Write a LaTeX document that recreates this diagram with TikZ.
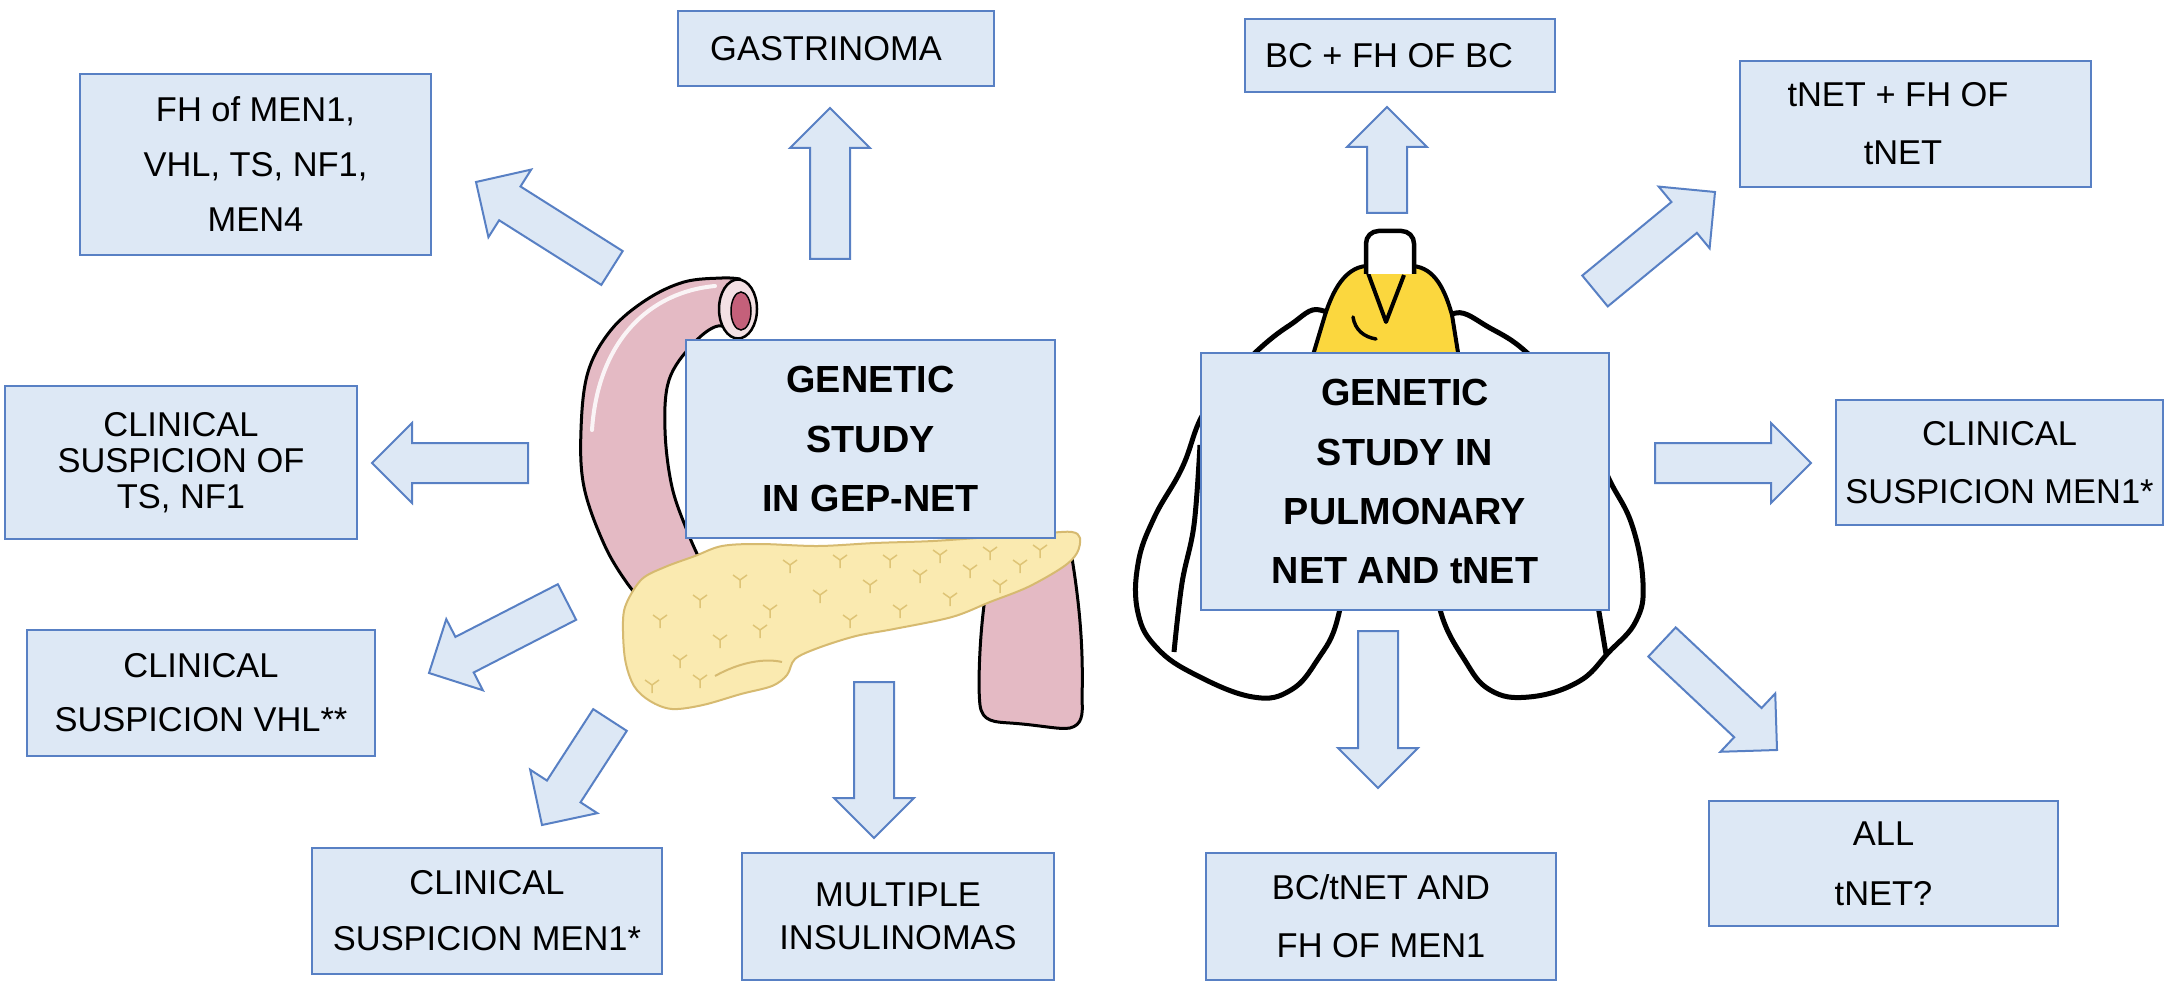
\documentclass[tikz,border=0pt]{standalone}
\usepackage{fontspec}
\setmainfont{Liberation Sans}
\usepackage{tikz}
\usetikzlibrary{calc}
\definecolor{boxfill}{RGB}{221,232,245}
\definecolor{boxline}{RGB}{88,128,196}
\definecolor{duopink}{RGB}{228,186,196}
\definecolor{lumenred}{RGB}{196,96,122}
\definecolor{pancyellow}{RGB}{250,234,176}
\definecolor{pancedge}{RGB}{214,186,112}
\definecolor{panctick}{RGB}{222,196,118}
\definecolor{thymyellow}{RGB}{251,215,62}

% block arrow from tail coordinate #1 to tip coordinate #2
\newcommand{\fatarrow}[2]{%
  \coordinate (hb) at ($(#2)!8mm!(#1)$);
  \draw[blockarrow] ($(#1)!4mm!90:(#2)$) -- ($(hb)!4mm!90:(#2)$) -- ($(hb)!8mm!90:(#2)$) -- (#2)
    -- ($(hb)!8mm!-90:(#2)$) -- ($(hb)!4mm!-90:(#2)$) -- ($(#1)!4mm!-90:(#2)$) -- cycle;
}

\begin{document}
\begin{tikzpicture}[
    x=0.2mm, y=-0.2mm,
    box/.style={draw=boxline, fill=boxfill, line width=0.5mm, inner sep=0pt, align=center, font=\fontsize{19.6}{33}\selectfont},
    hub/.style={box, font=\fontsize{21.5}{33.6}\selectfont\bfseries},
    blockarrow/.style={draw=boxline, fill=boxfill, line width=0.4mm, line join=miter},
    organ/.style={draw=black, line width=1mm, line join=round},
    gut/.style={draw=black, line width=0.6mm, fill=duopink, line join=round}
]
    \fill[white] (0,0) rectangle (2175,999);
    \useasboundingbox (0,0) rectangle (2175,999);

    % Duodenum
    \draw[gut] (1050,560) -- (985,598) .. controls (979,640) and (978,690) .. (980,705)
        .. controls (982,722) and (995,722) .. (1010,723) .. controls (1040,725) and (1060,730) .. (1070,728)
        .. controls (1082,725) and (1083,715) .. (1082,700) .. controls (1083,660) and (1082,620) .. (1072,558) -- cycle;
    \draw[gut] plot[smooth, tension=0.6] coordinates {(740,279) (722,278) (684,282) (646,300) (611,330) (588,372)
        (581,430) (584,487) (604,544) (627,583) (650,610)} -- (720,600)
        -- plot[smooth, tension=0.6] coordinates {(700,560) (688,533) (672,487) (665,430) (669,380) (692,345) (718,326) (740,336)} -- cycle;
    \draw[white, line width=0.8mm, opacity=0.85, line cap=round] (715,286) .. controls (650,292) and (598,340) .. (592,430);
    \draw[line width=0.5mm, fill=duopink!45] (738,309) ellipse [x radius=3.8mm, y radius=5.9mm];
    \draw[line width=0.3mm, fill=lumenred] (741,311) ellipse [x radius=2mm, y radius=3.8mm];

    % Pancreas
    \draw[pancedge, line width=0.4mm, fill=pancyellow] plot[smooth cycle, tension=0.55] coordinates {
        (1080,538) (1077,553) (1063,567) (1028,587) (990,602) (952,617) (894,629) (856,636) (818,648) (795,659)
        (787,675) (772,686) (741,694) (703,705) (672,709) (650,701) (634,686) (625,659) (623,621) (627,602)
        (642,579) (665,567) (695,556) (722,546) (760,544) (818,546) (875,543) (933,541) (990,537) (1047,533) (1072,532)};
    \draw[pancedge, line width=0.4mm] (715,676) .. controls (740,662) and (765,658) .. (782,662);
    \foreach \px/\py in {660/620, 700/600, 740/580, 790/565, 840/560, 890/560, 940/555, 990/552, 1040/550,
        680/660, 720/640, 770/610, 820/595, 870/585, 920/575, 970/570, 1020/565, 652/685, 700/680, 760/630,
        850/620, 900/610, 950/598, 1000/585}
        \draw[panctick, line width=0.3mm] (\px,\py) -- ++(-7,-5) (\px,\py) -- ++(7,-5) (\px,\py) -- ++(0,8);

    % Lungs
    \draw[organ, fill=white] plot[smooth cycle, tension=0.7] coordinates {
        (1320,310) (1290,325) (1257,351) (1225,385) (1201,418) (1182,468) (1154,518) (1138,564) (1138,613)
        (1157,648) (1196,675) (1253,697) (1291,690) (1318,659) (1337,621) (1345,560) (1350,450) (1345,340)};
    \draw[organ, fill=white] plot[smooth cycle, tension=0.7] coordinates {
        (1456,313) (1490,328) (1525,351) (1560,390) (1590,435) (1609,479) (1632,525) (1643,583) (1636,621)
        (1609,652) (1578,682) (1529,697) (1490,690) (1464,659) (1441,613) (1435,560) (1430,450) (1440,340)};
    \draw[organ] plot[smooth, tension=0.6] coordinates {(1200,445) (1194,525) (1182,583) (1174,652)};
    \draw[organ] (1597,600) -- (1606,654);

    % Thymus and trachea
    \draw[organ, fill=thymyellow, line width=0.8mm] (1366,266) .. controls (1345,268) and (1333,290) .. (1325,315)
        -- (1310,365) -- (1460,365) -- (1452,315) .. controls (1445,290) and (1435,268) .. (1413,266) -- cycle;
    \draw[line width=0.8mm, line join=round] (1368,273) -- (1386,322) -- (1404,275);
    \draw[line width=0.7mm, line cap=round] (1353,317) .. controls (1355,330) and (1364,337) .. (1376,339);
    \draw[organ, fill=white, line width=0.9mm, rounded corners=2.5mm] (1366,274) -- (1366,231) -- (1414,231) -- (1414,274);

    % Central boxes
    \node[hub, minimum width=73.8mm, minimum height=39.6mm] (gep) at (870.5,439) {GENETIC\\STUDY\\IN GEP-NET};
    \node[hub, minimum width=81.6mm, minimum height=51.4mm] (pulm) at (1405,481.5) {GENETIC\\STUDY IN\\PULMONARY\\NET AND tNET};

    % GEP-NET indications
    \node[box, minimum width=63.2mm, minimum height=15mm] (gastr) at (836,48.5) {GASTRINOMA\hspace*{4mm}};
    \node[box, minimum width=70.2mm, minimum height=36.2mm, font=\fontsize{19.6}{31.3}\selectfont] (fhmen) at (255.5,164.5) {FH of MEN1,\\VHL, TS, NF1,\\MEN4};
    \node[box, minimum width=70.4mm, minimum height=30.6mm, font=\fontsize{19.6}{20.5}\selectfont] (tsnf) at (181,462.5) {CLINICAL\\SUSPICION OF\\TS, NF1};
    \node[box, minimum width=69.6mm, minimum height=25.2mm, font=\fontsize{19.6}{30.7}\selectfont] (vhl) at (201,693) {CLINICAL\\SUSPICION VHL**};
    \node[box, minimum width=70mm, minimum height=25.2mm, font=\fontsize{19.6}{31.9}\selectfont] (menleft) at (487,911) {CLINICAL\\SUSPICION MEN1*};
    \node[box, minimum width=62.4mm, minimum height=25.4mm, font=\fontsize{19.6}{24.5}\selectfont] (insul) at (898,916.5) {MULTIPLE\\INSULINOMAS};

    % Pulmonary NET indications
    \node[box, minimum width=62mm, minimum height=14.6mm] (bcfh) at (1400,55.5) {BC + FH OF BC\hspace*{4.4mm}};
    \node[box, minimum width=70.2mm, minimum height=25.2mm] (tnetfh) at (1915.5,124) {tNET + FH OF\hspace*{7mm}\\tNET\hspace*{5mm}};
    \node[box, minimum width=65.4mm, minimum height=25mm] (menright) at (1999.5,462.5) {CLINICAL\\SUSPICION MEN1*};
    \node[box, minimum width=70mm, minimum height=25.4mm] (bctnet) at (1381,916.5) {BC/tNET AND\\FH OF MEN1};
    \node[box, minimum width=69.8mm, minimum height=25mm, font=\fontsize{19.6}{34}\selectfont] (alltnet) at (1883.5,863.5) {ALL\\tNET?};

    % Arrow ends
    \coordinate (gastr-s) at (830,259);    \coordinate (gastr-t) at (830,108);
    \coordinate (fhmen-s) at (612,268);    \coordinate (fhmen-t) at (476,182);
    \coordinate (tsnf-s) at (528,463);     \coordinate (tsnf-t) at (372,463);
    \coordinate (vhl-s) at (567,602);      \coordinate (vhl-t) at (429,673);
    \coordinate (menleft-s) at (610,720);  \coordinate (menleft-t) at (542,825);
    \coordinate (insul-s) at (874,682);    \coordinate (insul-t) at (874,838);
    \coordinate (bcfh-s) at (1387,213);    \coordinate (bcfh-t) at (1387,107);
    \coordinate (tnetfh-s) at (1595,291);  \coordinate (tnetfh-t) at (1715,192);
    \coordinate (menright-s) at (1655,463); \coordinate (menright-t) at (1811,463);
    \coordinate (bctnet-s) at (1378,631);  \coordinate (bctnet-t) at (1378,788);
    \coordinate (alltnet-s) at (1662,642); \coordinate (alltnet-t) at (1777,750);

    % Block arrows
    \fatarrow{gastr-s}{gastr-t}
    \fatarrow{fhmen-s}{fhmen-t}
    \fatarrow{tsnf-s}{tsnf-t}
    \fatarrow{vhl-s}{vhl-t}
    \fatarrow{menleft-s}{menleft-t}
    \fatarrow{insul-s}{insul-t}
    \fatarrow{bcfh-s}{bcfh-t}
    \fatarrow{tnetfh-s}{tnetfh-t}
    \fatarrow{menright-s}{menright-t}
    \fatarrow{bctnet-s}{bctnet-t}
    \fatarrow{alltnet-s}{alltnet-t}
\end{tikzpicture}
\end{document}
